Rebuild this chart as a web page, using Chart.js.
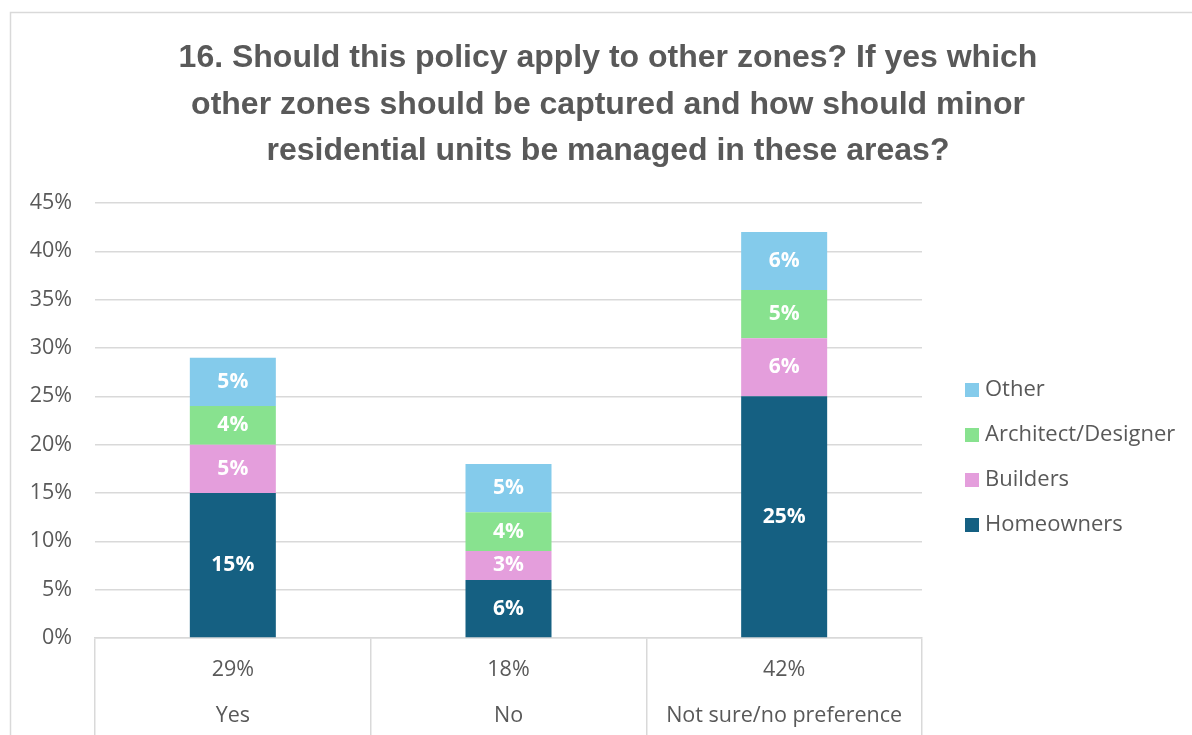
<!DOCTYPE html>
<html>
<head>
<meta charset="utf-8">
<script src="https://cdn.jsdelivr.net/npm/chart.js@4/dist/chart.umd.min.js"></script>
<style>
  html, body { margin: 0; padding: 0; background: #ffffff; }
  #wrap { position: relative; width: 1192px; height: 735px; }
  canvas { display: block; }
</style>
</head>
<body>
<div id="wrap"><canvas id="chart" width="1192" height="735"></canvas></div>
<script>
// Survey responses by group, in percent
const categories = ['Yes', 'No', 'Not sure/no preference'];
const totalLabels = ['29%', '18%', '42%'];
const homeowners = [15, 6, 25];
const builders = [5, 3, 6];
const architects = [4, 4, 5];
const other = [5, 5, 6];
const yTicks = [0, 5, 10, 15, 20, 25, 30, 35, 40, 45];

const titleLines = [
  '16. Should this policy apply to other zones? If yes which',
  'other zones should be captured and how should minor',
  'residential units be managed in these areas?'
];

const GREY_TEXT = '#595959';
const GRID = '#d9d9d9';
const TEXT_FONT = '"Open Sans", "Liberation Sans", Arial, sans-serif';

// Frame line around the chart (top and left edges visible)
const framePlugin = {
  id: 'frame',
  beforeDraw(chart) {
    const ctx = chart.ctx;
    ctx.save();
    ctx.fillStyle = '#ffffff';
    ctx.fillRect(0, 0, chart.width, chart.height);
    ctx.strokeStyle = GRID;
    ctx.lineWidth = 1.5;
    ctx.beginPath();
    ctx.moveTo(10.5, chart.height);
    ctx.lineTo(10.5, 12.5);
    ctx.lineTo(chart.width, 12.5);
    ctx.stroke();
    ctx.restore();
  }
};

// Value labels centred in each stacked segment
const segmentLabels = {
  id: 'segmentLabels',
  afterDatasetsDraw(chart) {
    const ctx = chart.ctx;
    ctx.save();
    ctx.fillStyle = '#ffffff';
    ctx.font = 'bold 21px ' + TEXT_FONT;
    ctx.textAlign = 'center';
    ctx.textBaseline = 'middle';
    chart.data.datasets.forEach((ds, di) => {
      const meta = chart.getDatasetMeta(di);
      meta.data.forEach((bar, i) => {
        const v = ds.data[i];
        const y = (bar.y + bar.base) / 2;
        ctx.fillText(v + '%', bar.x, y);
      });
    });
    ctx.restore();
  }
};

// Legend at the right, listed from the top segment down
const sideLegend = {
  id: 'sideLegend',
  afterDraw(chart) {
    const ctx = chart.ctx;
    const area = chart.chartArea;
    const x0 = area.right + 43;
    const y0 = area.top + 187;
    ctx.save();
    ctx.font = '22px ' + TEXT_FONT;
    ctx.textAlign = 'left';
    ctx.textBaseline = 'middle';
    const items = chart.data.datasets.slice().reverse();
    items.forEach((ds, k) => {
      const y = y0 + k * 45;
      ctx.fillStyle = ds.backgroundColor;
      ctx.fillRect(x0, y - 7, 14, 14);
      ctx.fillStyle = GREY_TEXT;
      ctx.fillText(ds.label, x0 + 20, y);
    });
    ctx.restore();
  }
};

new Chart(document.getElementById('chart'), {
  type: 'bar',
  data: {
    labels: categories,
    datasets: [
      { label: 'Homeowners', data: homeowners, backgroundColor: '#156082' },
      { label: 'Builders', data: builders, backgroundColor: '#E49EDC' },
      { label: 'Architect/Designer', data: architects, backgroundColor: '#88E28F' },
      { label: 'Other', data: other, backgroundColor: '#84CBEB' }
    ]
  },
  options: {
    responsive: false,
    animation: false,
    layout: { padding: { left: 24, right: 0, top: 0, bottom: 0 } },
    datasets: {
      bar: { categoryPercentage: 1.0, barPercentage: 0.312, borderWidth: 0 }
    },
    plugins: {
      legend: { display: false },
      tooltip: { enabled: false },
      title: {
        display: true,
        text: titleLines,
        color: GREY_TEXT,
        font: { family: '"Liberation Sans", Arial, sans-serif', size: 32, weight: 'bold', lineHeight: '46.5px' },
        padding: { top: 35, bottom: 28.5 }
      }
    },
    scales: {
      x: {
        stacked: true,
        grid: {
          display: true,
          offset: true,
          drawOnChartArea: false,
          drawTicks: true,
          tickLength: 97,
          color: GRID,
          lineWidth: 1.5
        },
        border: { display: true, color: GRID, width: 1.5 },
        ticks: {
          color: GREY_TEXT,
          padding: -88,
          maxRotation: 0,
          autoSkip: false,
          font: { family: TEXT_FONT, size: 21.5, lineHeight: '46px' },
          callback: (value, i) => [totalLabels[i], categories[i]]
        },
        afterFit(scale) { scale.height = 97; }
      },
      y: {
        stacked: true,
        min: 0,
        max: 45,
        afterBuildTicks(scale) { scale.ticks = yTicks.map(v => ({ value: v })); },
        grid: { color: GRID, lineWidth: 1.5, drawTicks: false },
        border: { display: false },
        ticks: {
          color: GREY_TEXT,
          padding: 23,
          font: { family: TEXT_FONT, size: 21.5 },
          callback: v => v + '%'
        },
        afterFit(scale) { scale.width = 71; }
      },
      // empty right-hand axis that reserves room for the legend
      side: {
        type: 'linear',
        position: 'right',
        display: true,
        grid: { display: false, drawTicks: false },
        border: { display: false },
        ticks: { display: false },
        afterFit(scale) { scale.width = 270; }
      }
    }
  },
  plugins: [framePlugin, segmentLabels, sideLegend]
});
</script>
</body>
</html>
